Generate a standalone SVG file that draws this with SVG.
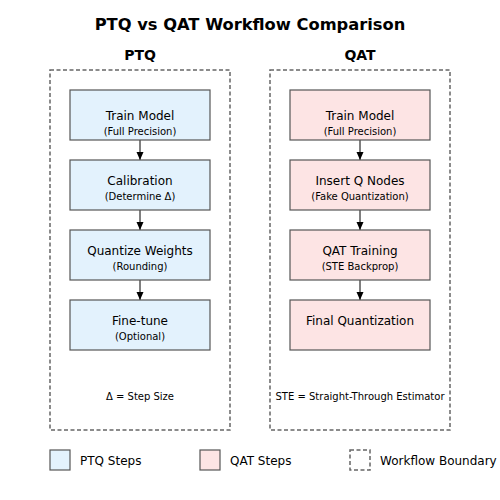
<svg xmlns="http://www.w3.org/2000/svg" width="500" height="500" viewBox="0 0 500 500">
<defs>
<style>
text{font-family:"DejaVu Sans","Liberation Sans",sans-serif;fill:#000;text-anchor:middle}
.title{font-size:16.3px;font-weight:bold}
.col{font-size:14px;font-weight:bold}
.main{font-size:12px}
.sub{font-size:10px}
.note{font-size:10px}
.leg{font-size:12px;text-anchor:start}
.ptq{fill:#e3f2fd;stroke:#555;stroke-width:1.2}
.qat{fill:#fde4e4;stroke:#555;stroke-width:1.2}
.bound{fill:none;stroke:#666;stroke-width:1.5;stroke-dasharray:4,2.5}
.conn line{stroke:#000;stroke-width:1}
</style>
<marker id="ah" viewBox="0 0 8 10" refX="8" refY="5" markerWidth="8" markerHeight="10" markerUnits="userSpaceOnUse" orient="auto">
<path d="M0,1.5 L8,5 L0,8.5 Z" fill="#000"/>
</marker>
</defs>
<rect width="500" height="500" fill="#fff"/>
<text class="title" x="250" y="30">PTQ vs QAT Workflow Comparison</text>
<text class="col" x="140" y="60">PTQ</text>
<text class="col" x="360" y="60">QAT</text>
<rect class="bound" x="50" y="70" width="180" height="360"/>
<rect class="bound" x="270" y="70" width="180" height="360"/>
<g class="conn">
<line x1="140" y1="140" x2="140" y2="160" marker-end="url(#ah)"/>
<line x1="140" y1="210" x2="140" y2="230" marker-end="url(#ah)"/>
<line x1="140" y1="280" x2="140" y2="300" marker-end="url(#ah)"/>
<line x1="360" y1="140" x2="360" y2="160" marker-end="url(#ah)"/>
<line x1="360" y1="210" x2="360" y2="230" marker-end="url(#ah)"/>
<line x1="360" y1="280" x2="360" y2="300" marker-end="url(#ah)"/>
</g>
<g id="ptq1"><rect class="ptq" x="70" y="90" width="140" height="50"/><text class="main" x="140" y="120">Train Model</text><text class="sub" x="140" y="135">(Full Precision)</text></g>
<g id="ptq2"><rect class="ptq" x="70" y="160" width="140" height="50"/><text class="main" x="140" y="185">Calibration</text><text class="sub" x="140" y="200">(Determine Δ)</text></g>
<g id="ptq3"><rect class="ptq" x="70" y="230" width="140" height="50"/><text class="main" x="140" y="255">Quantize Weights</text><text class="sub" x="140" y="270">(Rounding)</text></g>
<g id="ptq4"><rect class="ptq" x="70" y="300" width="140" height="50"/><text class="main" x="140" y="325">Fine-tune</text><text class="sub" x="140" y="340">(Optional)</text></g>
<g id="qat1"><rect class="qat" x="290" y="90" width="140" height="50"/><text class="main" x="360" y="120">Train Model</text><text class="sub" x="360" y="135">(Full Precision)</text></g>
<g id="qat2"><rect class="qat" x="290" y="160" width="140" height="50"/><text class="main" x="360" y="185">Insert Q Nodes</text><text class="sub" x="360" y="200">(Fake Quantization)</text></g>
<g id="qat3"><rect class="qat" x="290" y="230" width="140" height="50"/><text class="main" x="360" y="255">QAT Training</text><text class="sub" x="360" y="270">(STE Backprop)</text></g>
<g id="qat4"><rect class="qat" x="290" y="300" width="140" height="50"/><text class="main" x="360" y="325">Final Quantization</text></g>
<text class="note" x="140" y="400">Δ = Step Size</text>
<text class="note" x="360" y="400">STE = Straight-Through Estimator</text>
<g id="legend">
<rect class="ptq" x="50" y="450" width="20" height="20"/><text class="leg" x="80" y="465">PTQ Steps</text>
<rect class="qat" x="200" y="450" width="20" height="20"/><text class="leg" x="230" y="465">QAT Steps</text>
<rect class="bound" x="350" y="450" width="20" height="20"/><text class="leg" x="380" y="465">Workflow Boundary</text>
</g>
</svg>
